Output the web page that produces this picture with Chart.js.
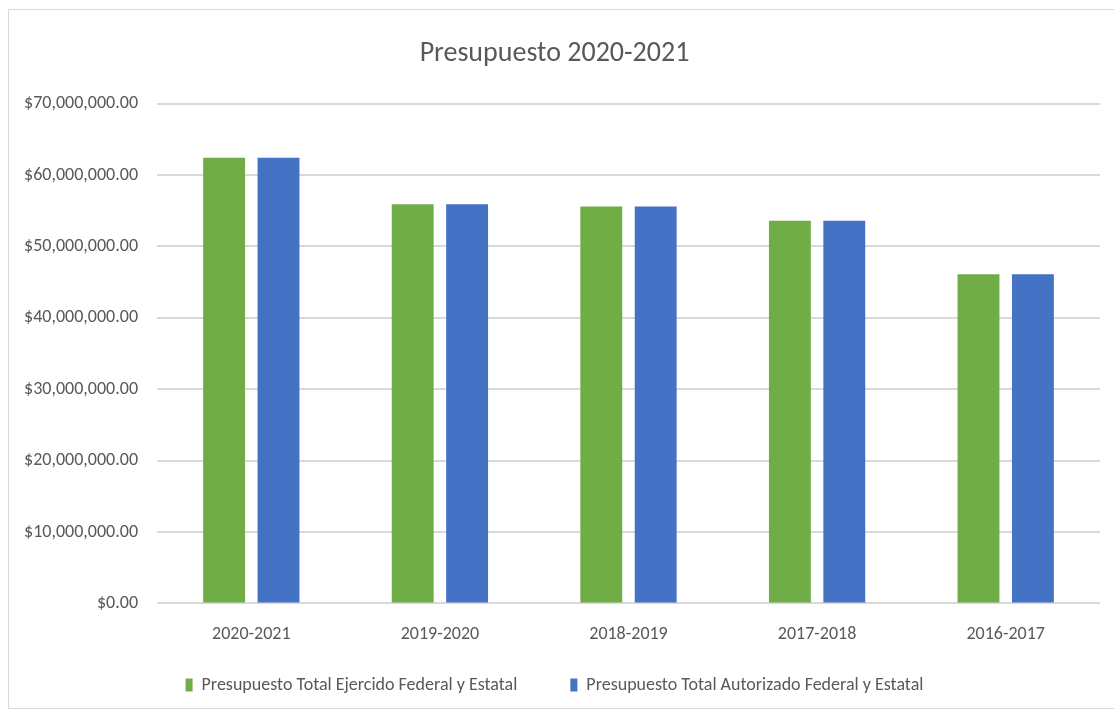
<!DOCTYPE html>
<html>
<head>
<meta charset="utf-8">
<script src="https://cdn.jsdelivr.net/npm/chart.js@4"></script>
<style>
  html, body { margin: 0; padding: 0; background: #fff; }
  #frame {
    position: absolute; left: 8px; top: 9px; width: 1120px; height: 700px;
    border: 1px solid #d9d9d9; box-sizing: border-box;
  }
  #box { position: absolute; left: 9px; top: 10px; width: 1105px; height: 701px; }
</style>
</head>
<body>
<div id="frame"></div>
<div id="box"><canvas id="myChart"></canvas></div>
<script>
'use strict';

var periodos = ['2020-2021', '2019-2020', '2018-2019', '2017-2018', '2016-2017'];
// Presupuesto Total Ejercido Federal y Estatal
var ejercido = [62400000, 55900000, 55600000, 53600000, 46100000];
// Presupuesto Total Autorizado Federal y Estatal
var autorizado = [62400000, 55900000, 55600000, 53600000, 46100000];

var textColor = '#595959';
var font = 'Calibri, Carlito, "Open Sans", sans-serif';

// legend padding gives the wide gap between the two items,
// but it also pads the top, so draw the legend a bit higher
var legendLift = {
  id: 'legendLift',
  afterInit: function (chart) {
    var legend = chart.legend;
    var draw = legend.draw;
    legend.draw = function () {
      this.top -= 42;
      this.bottom -= 42;
      draw.apply(this, arguments);
      this.top += 42;
      this.bottom += 42;
    };
  }
};

var ctx = document.getElementById('myChart').getContext('2d');

var myChart = new Chart(ctx, {
  type: 'bar',
  data: {
    labels: periodos,
    datasets: [{
      label: 'Presupuesto Total Ejercido Federal y Estatal',
      data: ejercido,
      backgroundColor: '#70ad47',
      barPercentage: 0.77,
      categoryPercentage: 0.577
    }, {
      label: 'Presupuesto Total Autorizado Federal y Estatal',
      data: autorizado,
      backgroundColor: '#4472c4',
      barPercentage: 0.77,
      categoryPercentage: 0.577
    }]
  },
  plugins: [legendLift],
  options: {
    responsive: true,
    maintainAspectRatio: false,
    animation: false,
    layout: { padding: { left: 0, right: 14, top: 0, bottom: -35 } },
    plugins: {
      title: {
        display: true,
        text: 'Presupuesto 2020-2021',
        color: textColor,
        font: { family: font, size: 28, weight: 'normal' },
        padding: { top: 27, bottom: 33 }
      },
      legend: {
        position: 'bottom',
        labels: {
          color: textColor,
          font: { family: font, size: 18 },
          boxWidth: 7,
          boxHeight: 13,
          padding: 53
        }
      },
      tooltip: { enabled: false }
    },
    scales: {
      x: {
        grid: { display: false, drawTicks: false },
        border: { display: false },
        ticks: { color: textColor, font: { family: font, size: 18 }, padding: 20 }
      },
      y: {
        min: 0,
        max: 70000000,
        afterFit: function (scale) { scale.width = 148; },
        grid: { color: '#d9d9d9', lineWidth: 2, drawTicks: false },
        border: { display: false },
        ticks: {
          stepSize: 10000000,
          color: textColor,
          font: { family: font, size: 18 },
          padding: 19,
          callback: function (v) {
            return '$' + v.toLocaleString('en-US', { minimumFractionDigits: 2, maximumFractionDigits: 2 });
          }
        }
      }
    }
  }
});
</script>
</body>
</html>
